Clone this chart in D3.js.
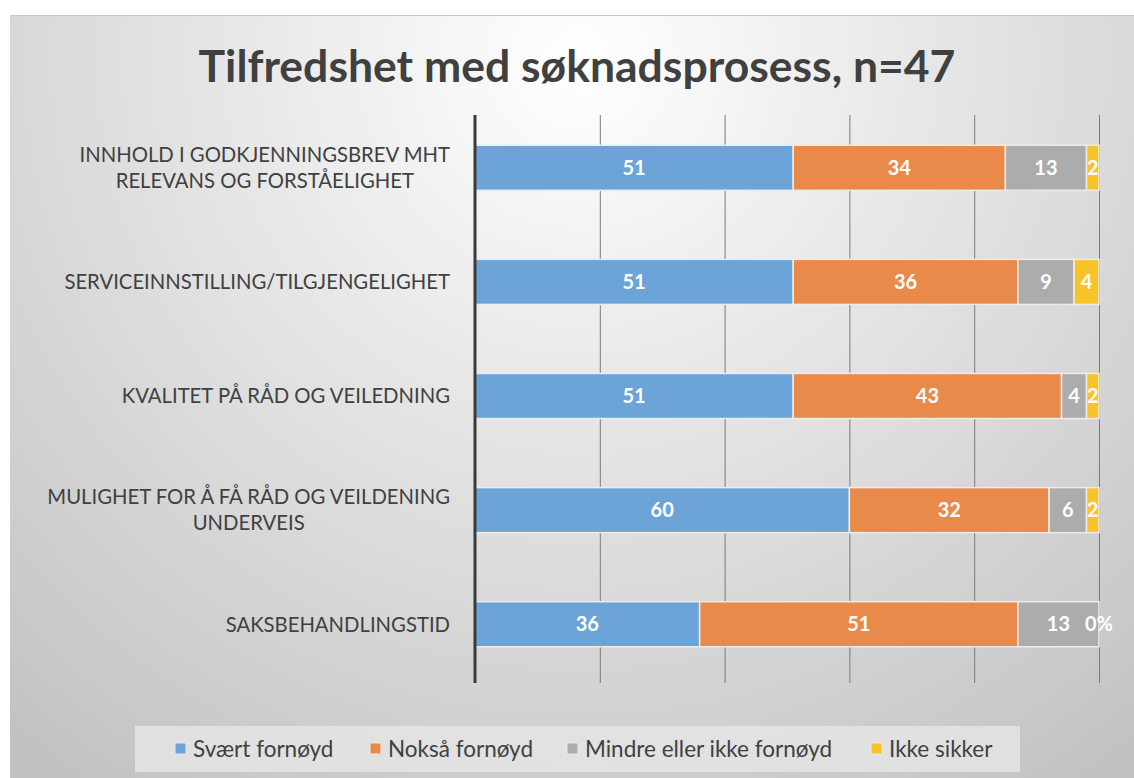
<!DOCTYPE html>
<html>
<head>
<meta charset="utf-8">
<script src="https://d3js.org/d3.v7.min.js"></script>
<style>
  body { margin: 0; background: #fff; }
  text { font-family: Lato, "Open Sans", sans-serif; }
</style>
</head>
<body>
<svg id="chart" width="1134" height="778"></svg>
<script>
// data
var categories = [
  ["INNHOLD I GODKJENNINGSBREV MHT", "RELEVANS OG FORSTÅELIGHET"],
  ["SERVICEINNSTILLING/TILGJENGELIGHET"],
  ["KVALITET PÅ RÅD OG VEILEDNING"],
  ["MULIGHET FOR Å FÅ RÅD OG VEILDENING", "UNDERVEIS"],
  ["SAKSBEHANDLINGSTID"]
];
var seriesNames = ["Svært fornøyd", "Nokså fornøyd", "Mindre eller ikke fornøyd", "Ikke sikker"];
var svaertFornoyd = [51, 51, 51, 60, 36];
var noksaFornoyd = [34, 36, 43, 32, 51];
var mindreFornoyd = [13, 9, 4, 6, 13];
var ikkeSikker = [2, 4, 2, 2, 0];
var xTicks = [0, 20, 40, 60, 80, 100];
var colors = ["#6ca4d8", "#ea8a4a", "#acacac", "#f8c328"];

var svg = d3.select("#chart");

// background
var defs = svg.append("defs");
var grad = defs.append("radialGradient")
  .attr("id", "bg")
  .attr("gradientUnits", "userSpaceOnUse")
  .attr("cx", 580).attr("cy", 60).attr("r", 880);
grad.append("stop").attr("offset", "0%").attr("stop-color", "#ffffff");
grad.append("stop").attr("offset", "100%").attr("stop-color", "#c2c2c2");

svg.append("rect")
  .attr("x", 10).attr("y", 15)
  .attr("width", 1124).attr("height", 763)
  .attr("fill", "url(#bg)");
svg.append("line")
  .attr("x1", 10).attr("x2", 1134).attr("y1", 15.5).attr("y2", 15.5)
  .attr("stroke", "#c8c8c8");

svg.append("text")
  .attr("x", 577).attr("y", 82)
  .attr("text-anchor", "middle")
  .attr("font-size", 44.5).attr("font-weight", "bold")
  .attr("fill", "#404040")
  .text("Tilfredshet med søknadsprosess, n=47");

var x = d3.scaleLinear().domain([0, 100]).range([475, 1099]);
var y = d3.scaleBand().domain(d3.range(categories.length)).range([111, 681]).paddingInner(0.605).paddingOuter(0.3);

// gridlines
svg.append("g").selectAll("line")
  .data(xTicks.slice(1))
  .enter().append("line")
    .attr("x1", function(d) { return x(d) + 0.5; })
    .attr("x2", function(d) { return x(d) + 0.5; })
    .attr("y1", 115).attr("y2", 683)
    .attr("stroke", "#7a7a7a").attr("stroke-width", 1);

// stacked bars
var rows = categories.map(function(c, i) {
  return { i: i, v: [svaertFornoyd[i], noksaFornoyd[i], mindreFornoyd[i], ikkeSikker[i]] };
});
var keys = [0, 1, 2, 3];
var stacked = d3.stack().keys(keys).value(function(d, k) { return d.v[k]; })(rows);

var layer = svg.append("g").selectAll("g")
  .data(stacked)
  .enter().append("g")
    .attr("fill", function(d) { return colors[d.key]; });

layer.selectAll("rect")
  .data(function(d) { return d; })
  .enter().append("rect")
    .attr("x", function(d) { return x(d[0]); })
    .attr("y", function(d) { return y(d.data.i); })
    .attr("width", function(d) { return x(d[1]) - x(d[0]); })
    .attr("height", y.bandwidth())
    .attr("stroke", "#ececec").attr("stroke-width", 1.5)
    .attr("stroke-opacity", function(d) { return d[1] - d[0] > 0 ? 1 : 0; });

layer.selectAll("text")
  .data(function(d) { return d; })
  .enter().append("text")
    .attr("x", function(d) { return (x(d[0]) + x(d[1])) / 2; })
    .attr("y", function(d) { return y(d.data.i) + y.bandwidth() / 2; })
    .attr("dy", "0.36em")
    .attr("text-anchor", "middle")
    .attr("font-size", 20).attr("font-weight", "bold")
    .attr("fill", "#fff")
    .text(function(d) { var v = d[1] - d[0]; return v === 0 ? "0%" : v; });

// axis line
svg.append("line")
  .attr("x1", 475).attr("x2", 475).attr("y1", 115).attr("y2", 683)
  .attr("stroke", "#3a3a3a").attr("stroke-width", 3);

// category labels (block right-aligned, lines centred)
var labels = svg.append("g").selectAll("text")
  .data(categories)
  .enter().append("text")
    .attr("font-size", 20.3)
    .attr("fill", "#404040")
    .attr("text-anchor", "middle");
labels.each(function(lines, i) {
  var t = d3.select(this);
  var cy = y(i) + y.bandwidth() / 2;
  lines.forEach(function(l, j) {
    t.append("tspan").text(l)
      .attr("x", 0)
      .attr("y", cy + (j - (lines.length - 1) / 2) * 26)
      .attr("dy", "0.36em");
  });
  var bw = this.getBBox().width;
  t.selectAll("tspan").attr("x", 450 - bw / 2);
});

// legend
svg.append("rect")
  .attr("x", 135).attr("y", 726)
  .attr("width", 885).attr("height", 46)
  .attr("fill", "#e6e6e6").attr("opacity", 0.8);

var legendX = [175, 370, 567, 871];
var lg = svg.append("g").selectAll("g")
  .data(seriesNames)
  .enter().append("g")
    .attr("transform", function(d, i) { return "translate(" + legendX[i] + ",749)"; });
lg.append("rect")
  .attr("x", 0).attr("y", -6).attr("width", 11).attr("height", 11)
  .attr("fill", function(d, i) { return colors[i]; })
  .attr("stroke", "#e8e8e8");
lg.append("text")
  .attr("x", 18).attr("dy", "0.36em")
  .attr("font-size", 22.5).attr("fill", "#404040")
  .text(function(d) { return d; });
</script>
</body>
</html>
